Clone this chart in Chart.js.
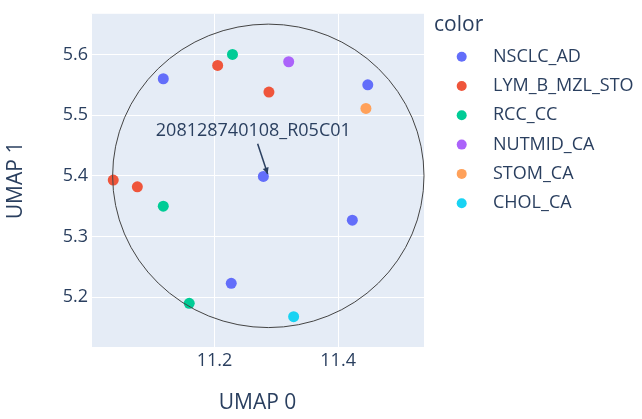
<!DOCTYPE html>
<html lang="en">
<head>
    <meta charset="UTF-8">
    <title>UMAP scatter</title>
    <script src="https://cdn.jsdelivr.net/npm/chart.js"></script>
    <style>
        html, body { margin: 0; padding: 0; background: #fff; }
        #wrap { width: 642px; height: 419px; }
    </style>
</head>
<body>
    <div id="wrap"><canvas id="umap"></canvas></div>

    <script>
// Samples: UMAP 0 / UMAP 1 coordinates and their class
const classNames = ['NSCLC_AD', 'LYM_B_MZL_STO', 'RCC_CC', 'NUTMID_CA', 'STOM_CA', 'CHOL_CA'];
const classColors = ['#636efa', '#EF553B', '#00cc96', '#ab63fa', '#FFA15A', '#19d3f3'];

const umap0 = [11.117, 11.448, 11.279, 11.423, 11.227,
               11.205, 11.288, 11.036, 11.075,
               11.229, 11.117, 11.159,
               11.320,
               11.445,
               11.328];
const umap1 = [5.560, 5.550, 5.399, 5.327, 5.223,
               5.582, 5.538, 5.393, 5.382,
               5.600, 5.350, 5.190,
               5.588,
               5.511,
               5.168];
const sampleClass = ['NSCLC_AD', 'NSCLC_AD', 'NSCLC_AD', 'NSCLC_AD', 'NSCLC_AD',
                     'LYM_B_MZL_STO', 'LYM_B_MZL_STO', 'LYM_B_MZL_STO', 'LYM_B_MZL_STO',
                     'RCC_CC', 'RCC_CC', 'RCC_CC',
                     'NUTMID_CA',
                     'STOM_CA',
                     'CHOL_CA'];

// circle shape (data coords) and the annotation pointing at its centre
const circleX = [11.035, 11.539];
const circleY = [5.150, 5.650];
const noteText = '208128740108_R05C01';
const notePoint = [11.287, 5.400];

const FONT = '"Open Sans", verdana, arial, sans-serif';
const INK = '#2a3f5f';

const datasets = classNames.map((name, i) => ({
    label: name,
    data: umap0.map((x, k) => ({ x: x, y: umap1[k], c: sampleClass[k] }))
               .filter(p => p.c === name),
    backgroundColor: classColors[i],
    borderColor: classColors[i],
    borderWidth: 0,
    pointRadius: 5.5,
    pointHoverRadius: 5.5
}));

// plot background
const bgPlugin = {
    id: 'bg',
    beforeDraw(chart) {
        const { ctx, chartArea: a } = chart;
        ctx.save();
        ctx.fillStyle = '#E5ECF6';
        ctx.fillRect(a.left, a.top, a.right - a.left, a.bottom - a.top);
        ctx.restore();
    }
};

// circle + annotation arrow
const overlayPlugin = {
    id: 'overlay',
    afterDatasetsDraw(chart) {
        const { ctx, scales: { x, y } } = chart;
        const x0 = x.getPixelForValue(circleX[0]), x1 = x.getPixelForValue(circleX[1]);
        const y0 = y.getPixelForValue(circleY[1]), y1 = y.getPixelForValue(circleY[0]);
        ctx.save();
        ctx.strokeStyle = '#444';
        ctx.lineWidth = 1;
        ctx.beginPath();
        ctx.ellipse((x0 + x1) / 2, (y0 + y1) / 2, (x1 - x0) / 2, (y1 - y0) / 2, 0, 0, Math.PI * 2);
        ctx.stroke();

        // annotation
        const px = x.getPixelForValue(notePoint[0]);
        const py = y.getPixelForValue(notePoint[1]);
        const tx = px - 15, ty = py - 45;
        ctx.font = '18px ' + FONT;
        ctx.fillStyle = INK;
        ctx.textAlign = 'center';
        ctx.textBaseline = 'middle';
        ctx.fillText(noteText, tx, ty);

        // arrow from text box bottom to the point
        const sx = tx + (px - tx) * (13 / (py - ty)), sy = ty + 13;
        const ang = Math.atan2(py - sy, px - sx);
        const ex = px - Math.cos(ang) * 2, ey = py - Math.sin(ang) * 2;
        ctx.strokeStyle = '#2a3f5f';
        ctx.lineWidth = 1.5;
        ctx.beginPath();
        ctx.moveTo(sx, sy);
        ctx.lineTo(ex, ey);
        ctx.stroke();
        ctx.fillStyle = '#2a3f5f';
        ctx.beginPath();
        ctx.moveTo(ex, ey);
        ctx.lineTo(ex - 7 * Math.cos(ang - 0.45), ey - 7 * Math.sin(ang - 0.45));
        ctx.lineTo(ex - 7 * Math.cos(ang + 0.45), ey - 7 * Math.sin(ang + 0.45));
        ctx.closePath();
        ctx.fill();
        ctx.restore();
    }
};

// plotly-like legend on the right
const legendPlugin = {
    id: 'sideLegend',
    afterDraw(chart) {
        const ctx = chart.ctx;
        ctx.save();
        ctx.fillStyle = INK;
        ctx.textBaseline = 'middle';
        ctx.textAlign = 'left';
        ctx.font = '21px ' + FONT;
        ctx.fillText('color', 434, 25);
        ctx.font = '18px ' + FONT;
        chart.data.datasets.forEach((ds, i) => {
            const cy = 56.7 + i * 29.3;
            ctx.fillStyle = ds.backgroundColor;
            ctx.beginPath();
            ctx.arc(461.7, cy, 5, 0, Math.PI * 2);
            ctx.fill();
            ctx.fillStyle = INK;
            ctx.fillText(ds.label, 493, cy);
        });
        ctx.restore();
    }
};

new Chart(document.getElementById('umap'), {
    type: 'scatter',
    data: { datasets: datasets },
    plugins: [bgPlugin, overlayPlugin, legendPlugin],
    options: {
        responsive: true,
        maintainAspectRatio: false,
        animation: false,
        layout: { padding: { top: 5, right: 218, bottom: 0, left: 0 } },
        plugins: {
            legend: { display: false },
            tooltip: { enabled: false }
        },
        scales: {
            x: {
                type: 'linear',
                min: 11.0,
                max: 11.539,
                border: { display: false },
                grid: { color: '#ffffff', lineWidth: 1, drawTicks: false },
                ticks: {
                    stepSize: 0.2,
                    includeBounds: false,
                    padding: 3,
                    color: INK,
                    font: { family: FONT, size: 18 },
                    callback: v => Math.abs(v - 11.0) < 1e-6 ? '' : v.toFixed(1)
                },
                title: {
                    display: true,
                    text: 'UMAP 0',
                    color: INK,
                    padding: { top: 0, bottom: 3 },
                    font: { family: FONT, size: 21 }
                },
                afterFit(scale) { scale.height = 72; }
            },
            y: {
                type: 'linear',
                min: 5.118,
                max: 5.667,
                border: { display: false },
                grid: { color: '#ffffff', lineWidth: 1, drawTicks: false },
                ticks: {
                    stepSize: 0.1,
                    includeBounds: false,
                    padding: 3,
                    color: INK,
                    font: { family: FONT, size: 18 },
                    callback: v => v.toFixed(1)
                },
                title: {
                    display: true,
                    text: 'UMAP 1',
                    color: INK,
                    padding: { top: 3, bottom: 0 },
                    font: { family: FONT, size: 21 }
                },
                afterFit(scale) { scale.width = 91; }
            }
        }
    }
});
    </script>
</body>
</html>
